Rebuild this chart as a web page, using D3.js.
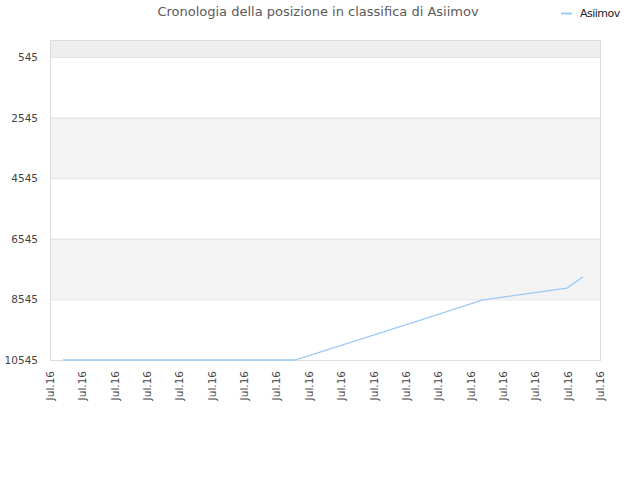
<!DOCTYPE html>
<html><head><meta charset="utf-8">
<script src="https://cdn.jsdelivr.net/npm/d3@7"></script>
<style>body{margin:0;background:#fff;font-family:"DejaVu Sans",sans-serif;}</style>
</head><body><svg id="c" width="640" height="480"></svg>
<script>
const title = "Cronologia della posizione in classifica di Asiimov";
const seriesName = "Asiimov";
const tickLabels = Array(18).fill("Jul.16");
const yTicks = [545, 2545, 4545, 6545, 8545, 10545];
// time position (in tick units) and rank
const pointT = [0.4, 7.57, 11.45, 13.38, 15.98, 16.48];
const pointRank = [10545, 10545, 9230, 8560, 8170, 7800];

const svg = d3.select("#c");
const L = 50, R = 600, T = 40, B = 360;
const x = d3.scaleLinear().domain([0, tickLabels.length - 1]).range([L, R]);
const y = d3.scaleLinear().domain([-16, 10545]).range([T, B]);

// bands
svg.append("rect").attr("x", L).attr("y", T).attr("width", R - L).attr("height", y(yTicks[0]) - T).attr("fill", "#eeeeee");
for (let i = 0; i < yTicks.length - 1; i++) {
  svg.append("rect").attr("x", L).attr("y", y(yTicks[i])).attr("width", R - L)
    .attr("height", y(yTicks[i + 1]) - y(yTicks[i])).attr("fill", i % 2 ? "#f3f3f3" : "#ffffff");
}
// gridlines
svg.selectAll(".g").data(yTicks).enter().append("line")
  .attr("x1", L).attr("x2", R).attr("y1", d => y(d) + 0.5).attr("y2", d => y(d) + 0.5)
  .attr("stroke", "#e2e2e2");
// frame
svg.append("rect").attr("x", L + 0.5).attr("y", T + 0.5).attr("width", R - L).attr("height", B - T)
  .attr("fill", "none").attr("stroke", "#dddddd");

// y labels
svg.selectAll(".yl").data(yTicks).enter().append("text")
  .attr("x", L - 12).attr("y", d => y(d) + 4).attr("text-anchor", "end")
  .attr("font-size", 10.5).attr("fill", "#444").text(d => d);

// x labels
svg.selectAll(".xl").data(tickLabels).enter().append("text")
  .attr("transform", (d, i) => `translate(${x(i) + 4},${B + 11}) rotate(-90)`)
  .attr("text-anchor", "end").attr("font-size", 10.5).attr("fill", "#444").text(d => d);

// line
const pts = pointT.map((t, i) => [t, pointRank[i]]);
svg.append("path").datum(pts)
  .attr("d", d3.line().x(d => x(d[0])).y(d => y(d[1])))
  .attr("fill", "none").attr("stroke", "#9ccaf5").attr("stroke-width", 1.3);

// title
svg.append("text").attr("x", 318).attr("y", 16).attr("text-anchor", "middle")
  .attr("font-size", 13).attr("fill", "#5a5a5a").text(title);

// legend
svg.append("line").attr("x1", 561).attr("x2", 572).attr("y1", 13.5).attr("y2", 13.5)
  .attr("stroke", "#9ccaf5").attr("stroke-width", 2);
svg.append("text").attr("x", 580).attr("y", 17).attr("font-size", 11)
  .attr("letter-spacing", -0.5).attr("fill", "#222").text(seriesName);
</script></body></html>
